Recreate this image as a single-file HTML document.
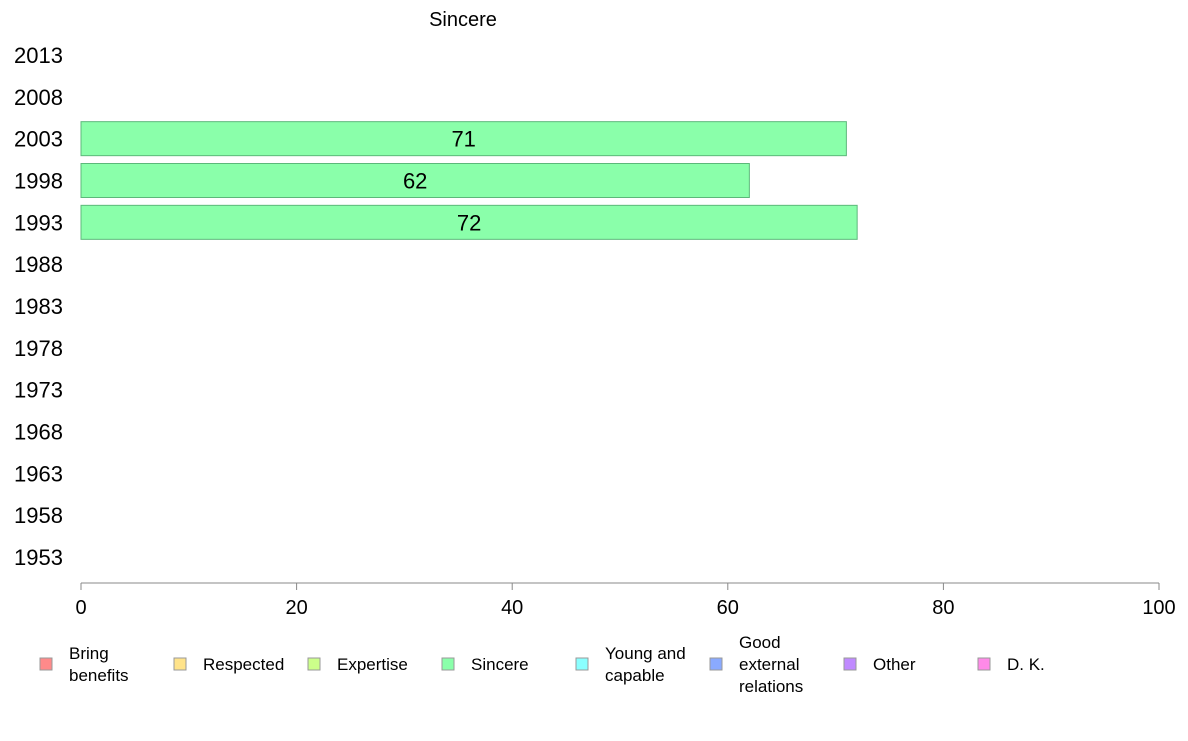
<!DOCTYPE html>
<html><head><meta charset="utf-8"><style>
body{margin:0;background:#fff;font-family:"Liberation Sans",Arial,sans-serif}
svg text{font-family:"Liberation Sans",Arial,sans-serif}
</style></head><body>
<svg id="c" width="1188" height="736" xmlns="http://www.w3.org/2000/svg">
<text x="463" y="26" font-size="20" text-anchor="middle">Sincere</text>
<line x1="81" y1="583" x2="1159" y2="583" stroke="#888"/>
</svg>
<script>
const categories=["2013","2008","2003","1998","1993","1988","1983","1978","1973","1968","1963","1958","1953"];
const values=[null,null,71,62,72,null,null,null,null,null,null,null,null];
const xTicks=[0,20,40,60,80,100];
const legendLabels=[["Bring","benefits"],["Respected"],["Expertise"],["Sincere"],["Young and","capable"],["Good","external","relations"],["Other"],["D. K."]];
const legendColors=["#ff8a8a","#ffe38a","#ccff8a","#8affaa","#8affff","#8aaaff","#c08aff","#ff8ae8"];
const svg=document.getElementById('c');const NS="http://www.w3.org/2000/svg";
const x=v=>81+v*(1159-81)/100;
const y=i=>55+i*(557-55)/(categories.length-1);
function mk(t,a){const e=document.createElementNS(NS,t);for(const k in a)e.setAttribute(k,a[k]);svg.appendChild(e);return e;}
xTicks.forEach(t=>{
 const l=mk('line',{x1:x(t),x2:x(t),y1:583,y2:590,stroke:'#888'});
 
 
 const tx=mk('text',{x:x(t),y:614,'font-size':20,'text-anchor':'middle'});tx.textContent=t;
 
 
});
categories.forEach((c,i)=>{
 const tx=mk('text',{x:14,y:y(i)+8,'font-size':22});tx.textContent=c;
 
 
 const v=values[i];
 if(v!=null){
  const r=mk('rect',{x:x(0),y:y(i)-17,width:x(v)-x(0),height:34,fill:'#8affaa',stroke:'#5cb87a'});
  
  
  const lt=mk('text',{x:(x(0)+x(v))/2,y:y(i)+8,'font-size':22,'text-anchor':'middle'});lt.textContent=v;
  
  
 }
});
legendLabels.forEach((lines,i)=>{
 const lx=40+i*134;
 const g=mk('g',{});
 
 
 const r=document.createElementNS(NS,'rect');
 [['x',lx],['y',658],['width',12],['height',12],['fill',legendColors[i]],['stroke','#999']].forEach(([k,v])=>r.setAttribute(k,v));
 g.appendChild(r);
 const n=lines.length;
 lines.forEach((s,j)=>{
  const t=document.createElementNS(NS,'text');
  t.setAttribute('x',lx+29);t.setAttribute('y',670+(j-(n-1)/2)*22);t.setAttribute('font-size',17);
  t.textContent=s;g.appendChild(t);
 });
});
</script>
</body></html>
